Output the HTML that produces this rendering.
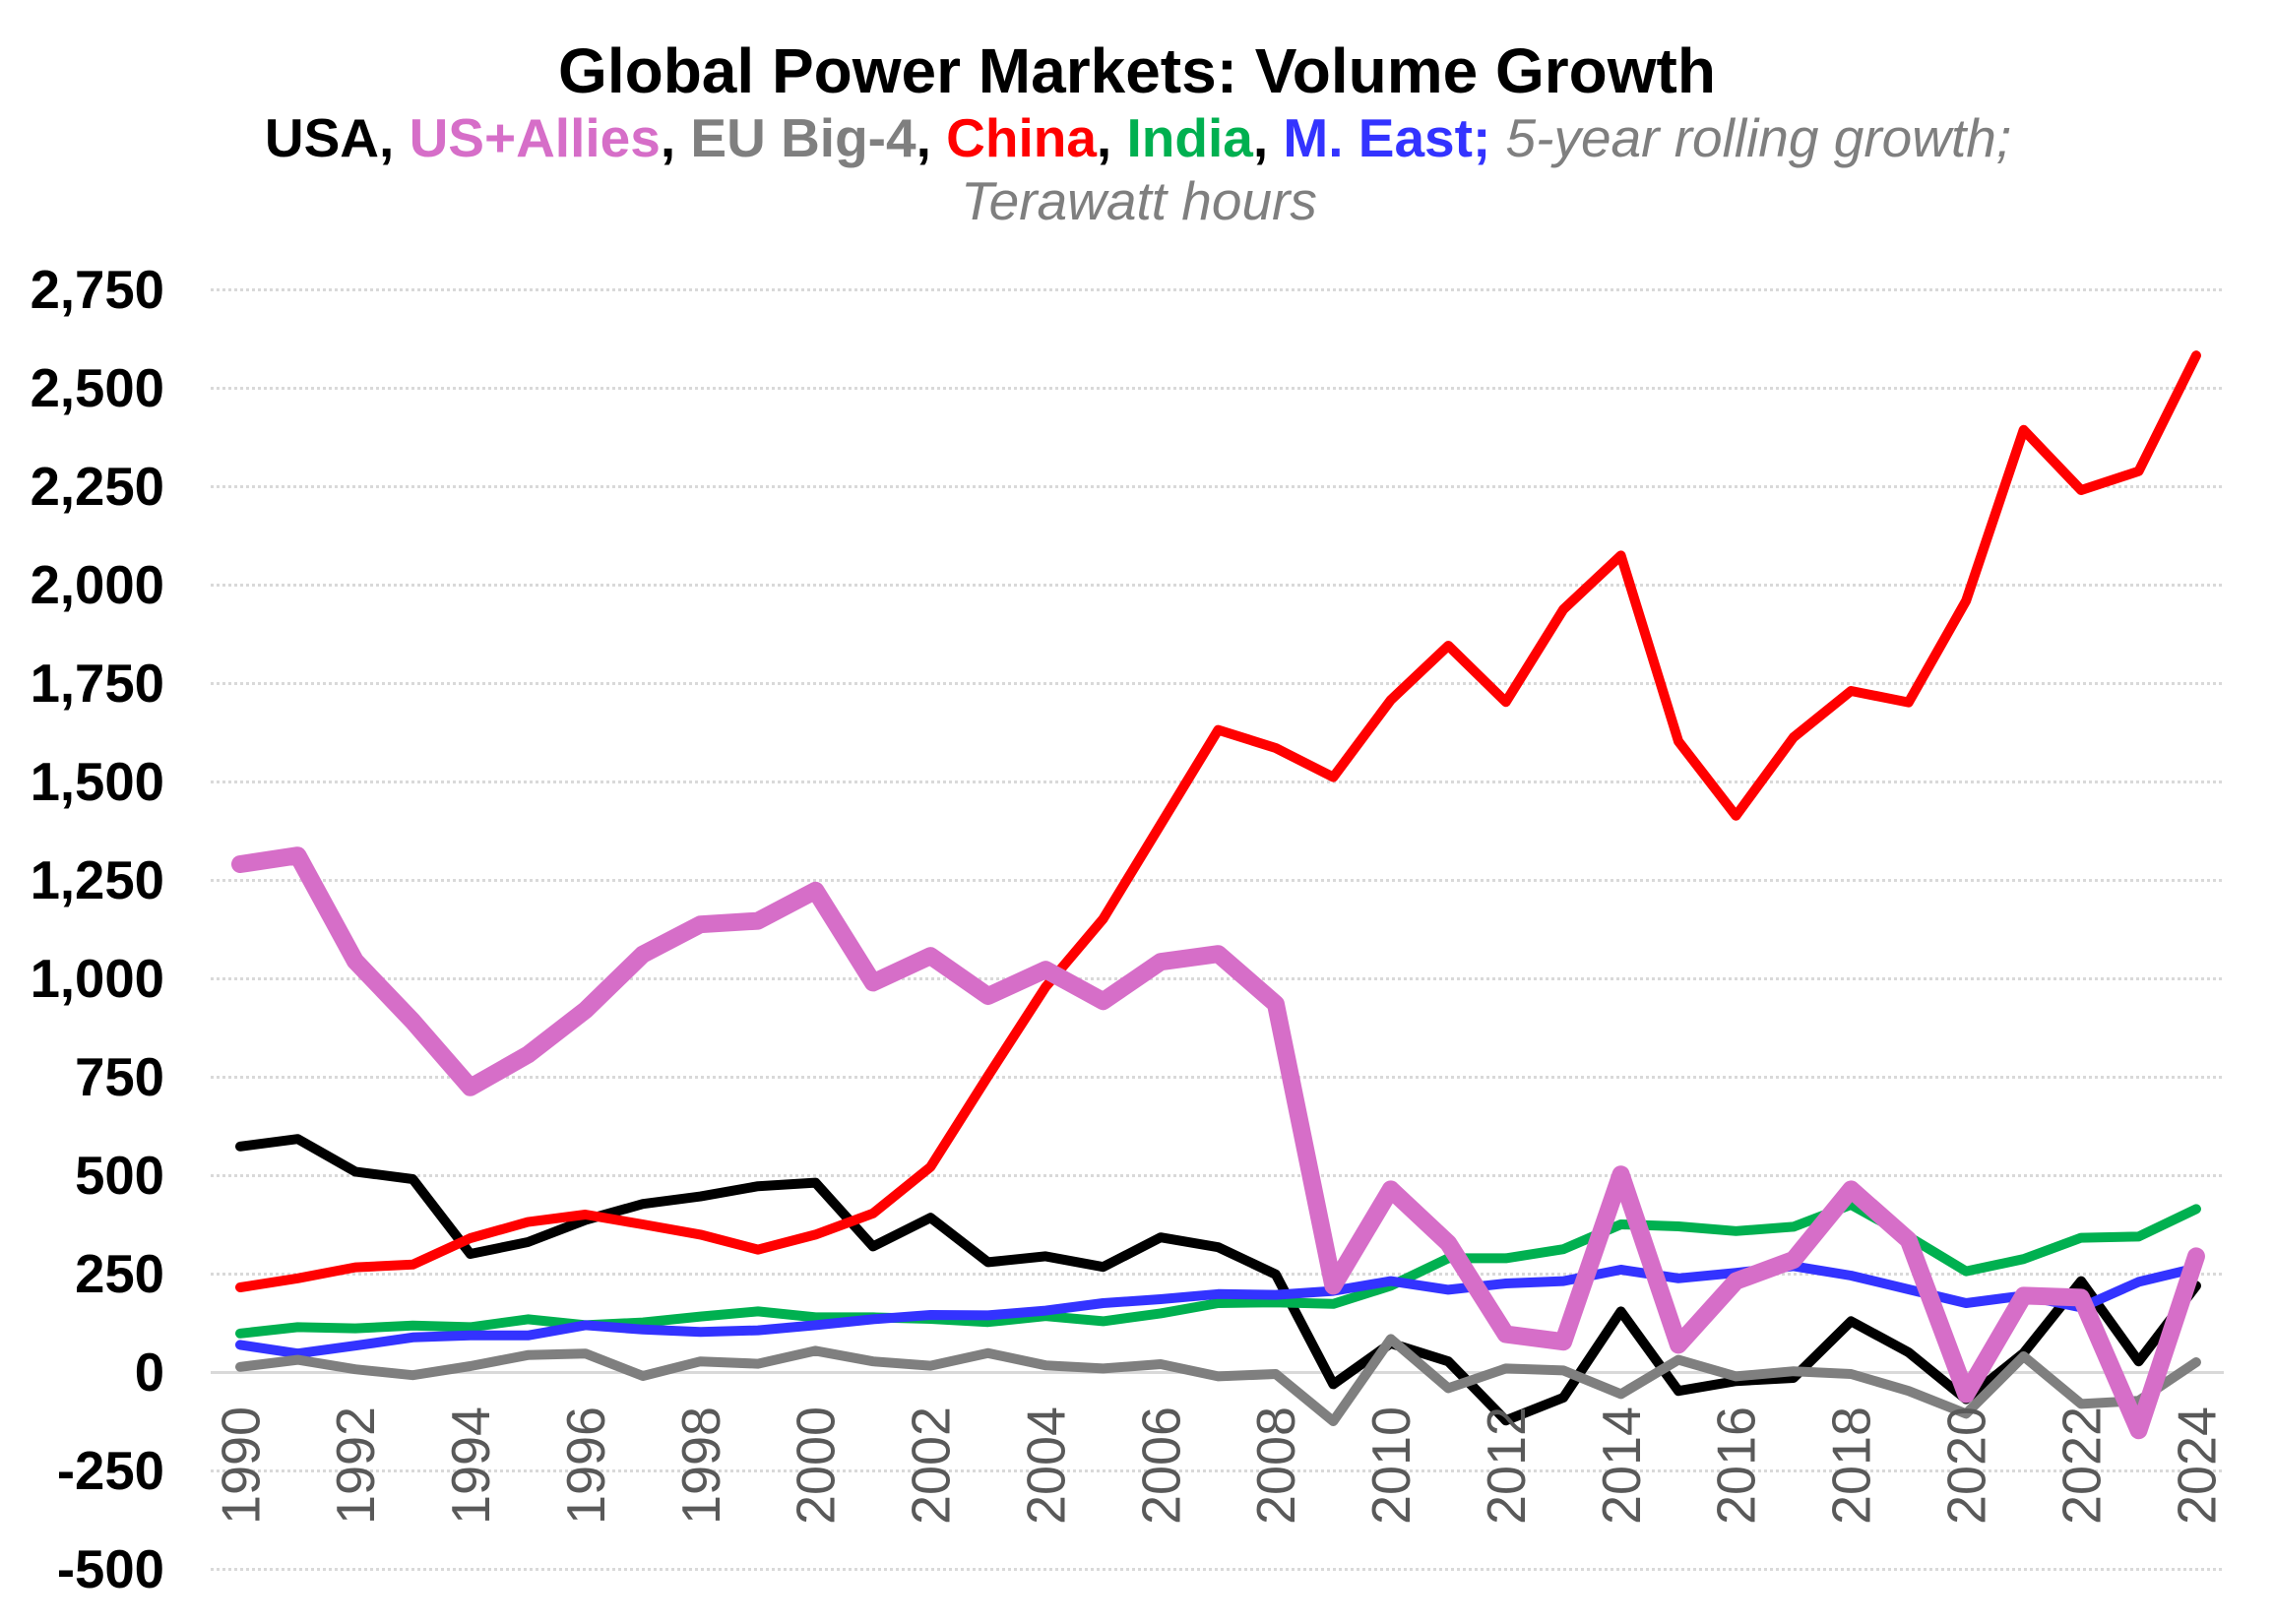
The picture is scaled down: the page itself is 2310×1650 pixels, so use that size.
<!DOCTYPE html>
<html lang="en">
<head>
<meta charset="utf-8">
<title>Global Power Markets: Volume Growth</title>
<style>
  html, body { margin: 0; padding: 0; background: #ffffff; }
  svg { display: block; font-family: "Liberation Sans", Arial, sans-serif; }
  .b { font-weight: 700; }
  .i { font-style: italic; font-weight: 400; fill: #7f7f7f; }
</style>
</head>
<body>
<svg id="chart" xmlns="http://www.w3.org/2000/svg" width="2310" height="1650" viewBox="0 0 2310 1650">
  <rect x="0" y="0" width="2310" height="1650" fill="#ffffff"/>
  <text x="1155" y="94" text-anchor="middle" font-size="64" font-weight="700" fill="#000000">Global Power Markets: Volume Growth</text>
  <text x="1156" y="159" text-anchor="middle" font-size="55" xml:space="preserve"><tspan class="b" fill="#000000">USA, </tspan><tspan class="b" fill="#d66ec8">US+Allies</tspan><tspan class="b" fill="#000000">, </tspan><tspan class="b" fill="#7f7f7f">EU Big-4</tspan><tspan class="b" fill="#000000">, </tspan><tspan class="b" fill="#ff0000">China</tspan><tspan class="b" fill="#000000">, </tspan><tspan class="b" fill="#00b050">India</tspan><tspan class="b" fill="#000000">, </tspan><tspan class="b" fill="#3333ff">M. East; </tspan><tspan class="i">5-year rolling growth;</tspan></text>
  <text x="1157" y="223" text-anchor="middle" font-size="55" class="i">Terawatt hours</text>
  <g id="grid"></g>
  <g id="ylabels"></g>
  <g id="series"></g>
  <g id="xlabels"></g>
</svg>
<script>
const years = [1990,1991,1992,1993,1994,1995,1996,1997,1998,1999,2000,2001,2002,2003,2004,2005,2006,2007,2008,2009,2010,2011,2012,2013,2014,2015,2016,2017,2018,2019,2020,2021,2022,2023,2024];
const yTicks = [2750,2500,2250,2000,1750,1500,1250,1000,750,500,250,0,-250,-500];
const usa = [576,595,512,493,303,333,389,430,449,475,484,322,395,282,297,270,345,320,251,-28,76,30,-120,-62,157,-45,-20,-12,132,53,-66,51,234,30,222];
const china = [218,241,269,276,343,384,403,378,352,314,352,406,524,755,981,1154,1394,1634,1588,1514,1710,1848,1705,1940,2077,1605,1416,1615,1733,1704,1962,2396,2243,2291,2585];
const india = [101,117,114,121,117,137,122,129,144,157,142,142,138,130,145,132,152,178,180,176,222,292,292,315,378,373,361,372,428,347,259,290,344,347,417];
const mEast = [72,50,70,91,96,96,122,111,105,109,122,137,148,147,159,178,188,201,199,209,234,212,228,234,263,241,255,272,248,213,178,197,167,232,267];
const euBig4 = [16,34,10,-5,18,46,50,-7,30,24,57,30,19,51,20,12,23,-8,-2,-122,87,-38,12,7,-53,34,-8,5,-2,-45,-103,43,-78,-70,28];
const usAllies = [1293,1315,1047,894,726,809,922,1064,1140,1149,1226,992,1060,958,1025,945,1045,1065,938,222,467,330,99,80,505,72,234,288,467,338,-53,197,192,-145,297];

const SVGNS = 'http://www.w3.org/2000/svg';
const xPos = function (i) { return 244 + i * 58.44; };
const yPos = function (v) { return 1395.2 - v * 0.4; };
const fmt = function (v) { return v.toLocaleString('en-US'); };

const gridGroup = document.getElementById('grid');
const yGroup = document.getElementById('ylabels');
yTicks.forEach(function (t) {
  const gy = Math.floor(yPos(t) - 0.4) + 0.5;
  const line = document.createElementNS(SVGNS, 'line');
  
  
  line.setAttribute('x1', 214);
  line.setAttribute('x2', 2259);
  line.setAttribute('y1', gy);
  line.setAttribute('y2', gy);
  line.setAttribute('stroke', '#d9d9d9');
  line.setAttribute('stroke-width', 3);
  if (t !== 0) line.setAttribute('stroke-dasharray', '3 3');
  gridGroup.appendChild(line);

  const label = document.createElementNS(SVGNS, 'text');
  
  
  label.setAttribute('x', 167);
  label.setAttribute('y', yPos(t) + 18);
  label.setAttribute('text-anchor', 'end');
  label.setAttribute('font-size', 54.5);
  label.setAttribute('font-weight', 700);
  label.setAttribute('fill', '#000000');
  label.textContent = fmt(t);
  yGroup.appendChild(label);
});

const seriesGroup = document.getElementById('series');
function drawSeries(values, name, color, width) {
  const path = document.createElementNS(SVGNS, 'path');
  
  
  path.setAttribute('d', values.map(function (v, i) {
    return (i === 0 ? 'M' : 'L') + xPos(i).toFixed(2) + ' ' + yPos(v).toFixed(2);
  }).join(' '));
  path.setAttribute('fill', 'none');
  path.setAttribute('stroke', color);
  path.setAttribute('stroke-width', width);
  path.setAttribute('stroke-linecap', 'round');
  path.setAttribute('stroke-linejoin', 'round');
  seriesGroup.appendChild(path);
}
drawSeries(usa, 'series-usa', '#000000', 10);
drawSeries(india, 'series-india', '#00b050', 10);
drawSeries(mEast, 'series-m-east', '#3333ff', 10);
drawSeries(china, 'series-china', '#ff0000', 10);
drawSeries(euBig4, 'series-eu-big-4', '#7f7f7f', 10);
drawSeries(usAllies, 'series-us-allies', '#d66ec8', 18);

const xGroup = document.getElementById('xlabels');
years.forEach(function (yr, i) {
  if (i % 2 !== 0) return;
  const label = document.createElementNS(SVGNS, 'text');
  
  
  const lx = xPos(i) + 19.3;
  const ly = 1429;
  label.setAttribute('x', lx);
  label.setAttribute('y', ly);
  label.setAttribute('transform', 'rotate(-90 ' + lx + ' ' + ly + ')');
  label.setAttribute('text-anchor', 'end');
  label.setAttribute('font-size', 55);
  label.setAttribute('textLength', 120);
  label.setAttribute('lengthAdjust', 'spacingAndGlyphs');
  label.setAttribute('fill', '#595959');
  label.textContent = String(yr);
  xGroup.appendChild(label);
});
</script>
</body>
</html>
